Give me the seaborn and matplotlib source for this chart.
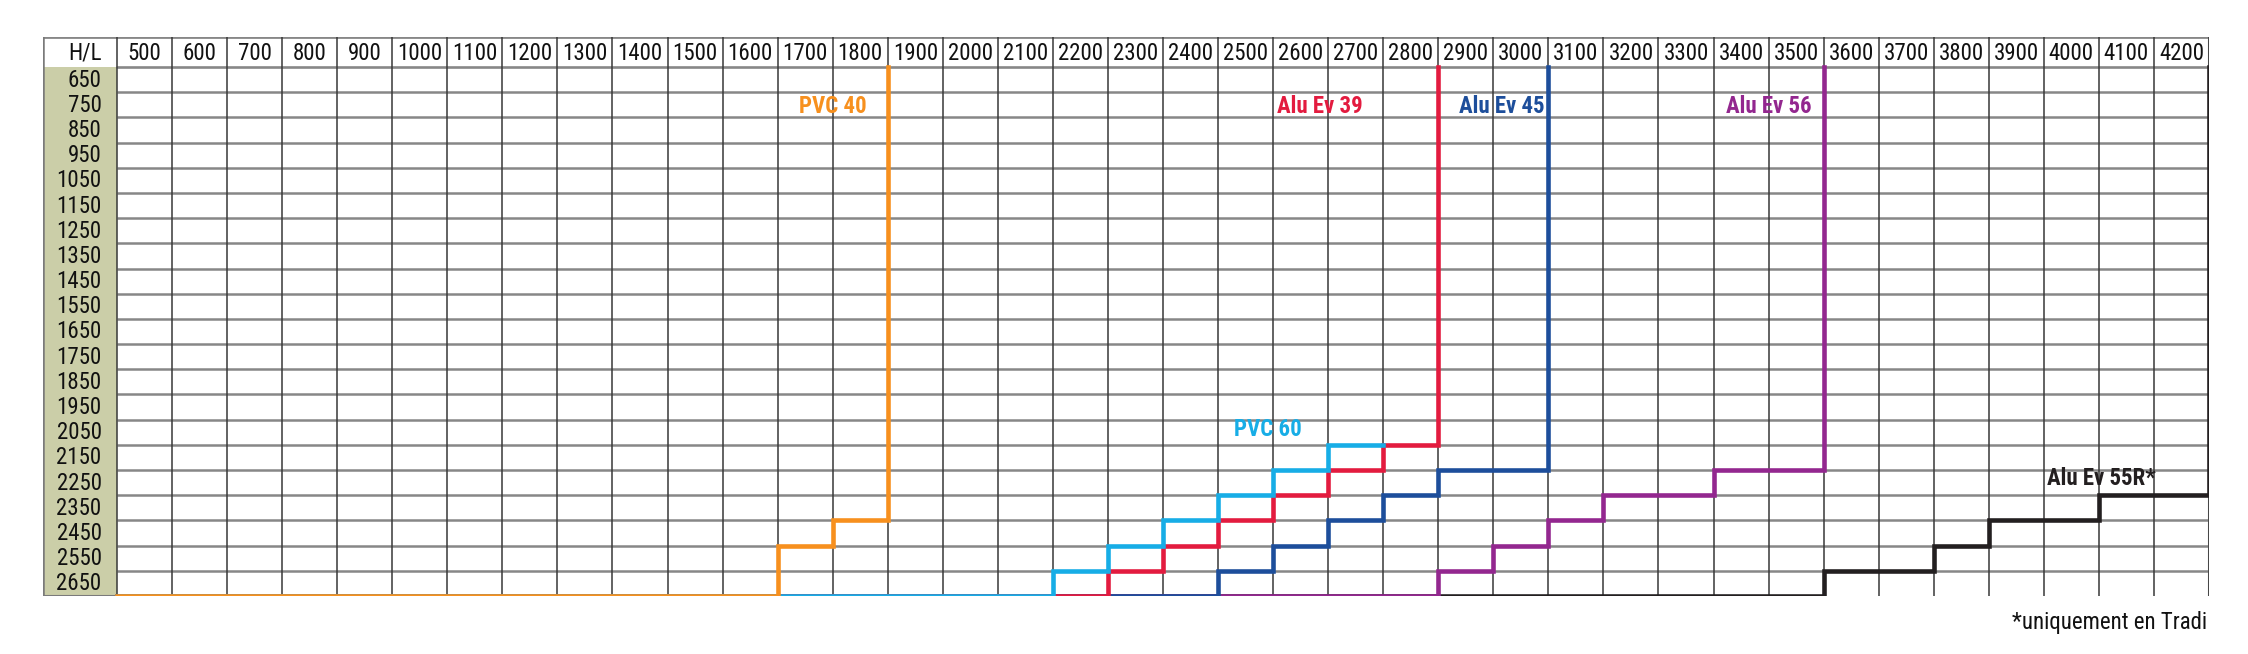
import matplotlib
matplotlib.use("Agg")
import matplotlib.pyplot as plt
from matplotlib import font_manager as fm
from matplotlib.font_manager import FontProperties
import seaborn as sns
import pandas as pd

# ---------------- data ----------------
widths = [500, 600, 700, 800, 900, 1000, 1100, 1200, 1300, 1400, 1500, 1600,
          1700, 1800, 1900, 2000, 2100, 2200, 2300, 2400, 2500, 2600, 2700,
          2800, 2900, 3000, 3100, 3200, 3300, 3400, 3500, 3600, 3700, 3800,
          3900, 4000, 4100, 4200]
heights = [650, 750, 850, 950, 1050, 1150, 1250, 1350, 1450, 1550, 1650,
           1750, 1850, 1950, 2050, 2150, 2250, 2350, 2450, 2550, 2650]

# step breakpoints: width where a new max height starts, and that max height
pvc40_w = [500, 1700, 1800]
pvc40_h = [2650, 2450, 2350]
pvc40_max = 1800

pvc60_w = [500, 2200, 2300, 2400, 2500, 2600, 2700]
pvc60_h = [2650, 2550, 2450, 2350, 2250, 2150, 2050]
pvc60_max = 2700

alu39_w = [500, 2300, 2400, 2500, 2600, 2700, 2800]
alu39_h = [2650, 2550, 2450, 2350, 2250, 2150, 2050]
alu39_max = 2800

alu45_w = [500, 2500, 2600, 2700, 2800, 2900]
alu45_h = [2650, 2550, 2450, 2350, 2250, 2150]
alu45_max = 3000

alu56_w = [500, 2900, 3000, 3100, 3200, 3400]
alu56_h = [2650, 2550, 2450, 2350, 2250, 2150]
alu56_max = 3500

alu55r_w = [500, 3600, 3800, 3900, 4100]
alu55r_h = [2650, 2550, 2450, 2350, 2250]
alu55r_max = 4200

series_names = ["Alu Ev 55R*", "Alu Ev 56", "Alu Ev 45", "Alu Ev 39", "PVC 60", "PVC 40"]
series_w = [alu55r_w, alu56_w, alu45_w, alu39_w, pvc60_w, pvc40_w]
series_h = [alu55r_h, alu56_h, alu45_h, alu39_h, pvc60_h, pvc40_h]
series_max = [alu55r_max, alu56_max, alu45_max, alu39_max, pvc60_max, pvc40_max]
series_open = [False, False, False, False, True, False]
series_colors = ["#231f20", "#93278f", "#1d4e9b", "#e31b3f", "#17ade6", "#f7901e"]
footnote = "*uniquement en Tradi"

# ---------------- fonts: look for a condensed / narrow face ----------------
def find_face(bold):
    prefs = ["Liberation Sans Narrow", "Roboto Condensed", "Open Sans Condensed",
             "Noto Sans Condensed", "DejaVu Sans Condensed", "DejaVu Sans"]
    cands = []
    for f in fm.fontManager.ttflist:
        narrow = ("Narrow" in f.name or "Condensed" in f.name or
                  "ondensed" in str(f.fname) or "Narrow" in str(f.fname) or
                  str(f.stretch) in ("condensed", "semi-condensed", "extra-condensed"))
        if not narrow or f.style != "normal":
            continue
        w = f.weight if isinstance(f.weight, int) else (700 if "bold" in str(f.weight) else 400)
        if bold and w < 600:
            continue
        if not bold and (w >= 600 or w < 350):
            continue
        rank = len(prefs)
        for r, p in enumerate(prefs):
            if f.name.startswith(p.split(" Condensed")[0].split(" Narrow")[0]):
                rank = r
                break
        cands.append((rank, abs(w - (700 if bold else 400)), f.fname))
    if cands:
        cands.sort()
        return cands[0][2]
    return None

reg_file = find_face(False)
bold_file = find_face(True)

sns.set_theme(style="white")
plt.rcParams['font.family'] = ['DejaVu Sans']

def fp(size, bold=False):
    f = bold_file if bold else reg_file
    if f is None:
        f = reg_file
    if f is not None:
        return FontProperties(fname=f, size=size)
    return FontProperties(family="DejaVu Sans", size=size * 0.8,
                          weight="bold" if bold else "normal")

# ---------------- figure ----------------
W, H = 2248, 654
fig = plt.figure(figsize=(W / 100, H / 100), dpi=100)
left_px, right_px, top_px, bot_px = 43, 2209, 37, 596
ax = fig.add_axes([left_px / W, 1 - bot_px / H, (right_px - left_px) / W, (bot_px - top_px) / H])

ncol = len(widths)
nrow = len(heights)
hl_w = 74 / 55.05      # width of H/L column in column units
hd_h = 30 / 25.2       # header height in row units

# H/L column fill
ax.fill_between([-hl_w, 0], [0, 0], [nrow, nrow], color="#cbcea8", zorder=0, lw=0)

# grid lines
hcol = "#878787"
vcol = "#383838"
for j in range(1, nrow):
    ax.plot([0, ncol], [j, j], color=hcol, lw=1.8, zorder=1, solid_capstyle="butt")
ax.plot([0, ncol], [0, 0], color=hcol, lw=1.9, zorder=1)
ax.plot([-hl_w, ncol], [-hd_h, -hd_h], color=hcol, lw=2.0, zorder=1)
for i in range(0, ncol + 1):
    ax.plot([i, i], [-hd_h, nrow], color=vcol, lw=1.1, zorder=1.5, solid_capstyle="butt")
ax.plot([-hl_w, -hl_w], [-hd_h, nrow], color="#7a7a7a", lw=1.8, zorder=1.5)
ax.plot([-hl_w, 0], [nrow, nrow], color="#7a7a7a", lw=2.2, zorder=1.5)
ax.plot([ncol, ncol], [-hd_h, nrow], color="#7a7a7a", lw=1.5, zorder=1.4)

# header labels
tfs = 16.5
tcol = "#111111"
for i, w in enumerate(widths):
    ax.text(i + 0.5, -hd_h / 2 + 0.05, str(w), ha="center", va="center",
            fontproperties=fp(tfs), color=tcol, zorder=3)
ax.text(-0.28, -hd_h / 2 + 0.05, "H/L", ha="right", va="center",
        fontproperties=fp(tfs), color=tcol, zorder=3)
for j, h in enumerate(heights):
    ax.text(-0.28, j + 0.52, str(h), ha="right", va="center",
            fontproperties=fp(tfs), color=tcol, zorder=3)

# step lines
def col_pos(w):
    return widths.index(w)

def row_bound(h):
    return heights.index(h) + 1

for k, (sw, sh, smax, sopen, c) in enumerate(zip(series_w, series_h, series_max,
                                                 series_open, series_colors)):
    xs = [col_pos(sw[0])]
    ys = [row_bound(sh[0])]
    for m in range(1, len(sw)):
        xs += [col_pos(sw[m]), col_pos(sw[m])]
        ys += [row_bound(sh[m - 1]), row_bound(sh[m])]
    xs.append(col_pos(smax) + 1)
    ys.append(row_bound(sh[-1]))
    if not sopen:
        xs.append(col_pos(smax) + 1)
        ys.append(0)
    df = pd.DataFrame({"x": xs, "y": ys})
    sns.lineplot(data=df, x="x", y="y", sort=False, estimator=None, color=c,
                 lw=3.3, ax=ax, zorder=4 + k, solid_capstyle="projecting",
                 solid_joinstyle="miter")
ax.set_xlim(-hl_w, ncol)
ax.set_ylim(nrow, -hd_h)
ax.axis("off")

# series labels (centre positions)
lab_pos = {
    "PVC 40": (13.0, 1.55),
    "Alu Ev 39": (21.85, 1.55),
    "Alu Ev 45": (25.15, 1.55),
    "Alu Ev 56": (30.0, 1.55),
    "PVC 60": (20.9, 14.4),
    "Alu Ev 55R*": (36.05, 16.35),
}
for name, c in zip(series_names, series_colors):
    x, y = lab_pos[name]
    ax.text(x, y, name, ha="center", va="center", fontproperties=fp(16.5, True),
            color=c, zorder=12)

fig.text(2207 / W, 1 - 622 / H, footnote, ha="right", va="center",
         fontproperties=fp(16.5), color=tcol)

fig.savefig("out.png", dpi=100, facecolor="white")
